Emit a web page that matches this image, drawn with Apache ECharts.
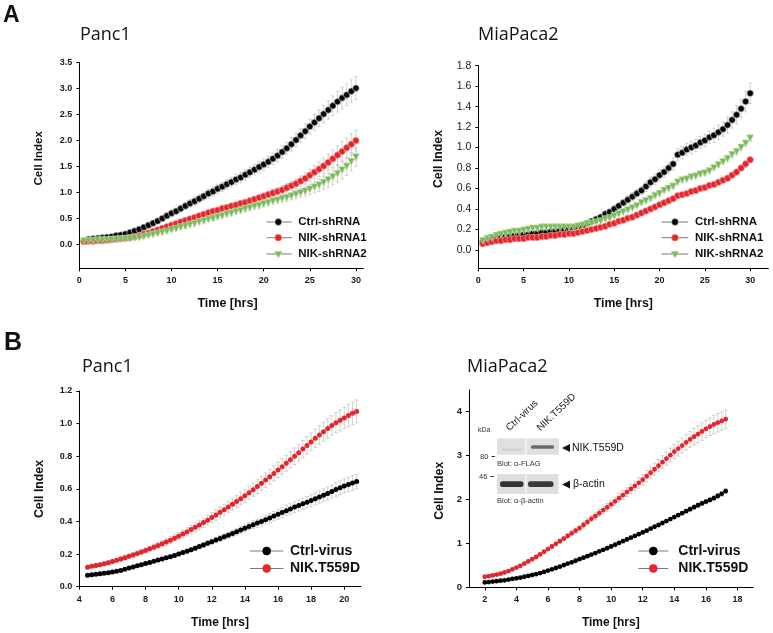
<!DOCTYPE html>
<html><head><meta charset="utf-8">
<script src="https://cdn.jsdelivr.net/npm/echarts@6/dist/echarts.min.js"></script>
<style>html,body{margin:0;padding:0;background:#fff}#c{width:773px;height:633px}</style>
</head><body><div id="c"></div>
<script>
function seq(start, step, n){const a=[];for(let i=0;i<n;i++)a.push(+(start+step*i).toFixed(2));return a;}

// ---------- Panel A (shRNA), measurement times (hrs) ----------
const timeA = seq(0.5, 0.5, 60);
const legendA = ['Ctrl-shRNA','NIK-shRNA1','NIK-shRNA2'];

// Panc1 shRNA
const panc1Ctrl = [0.07,0.10,0.11,0.12,0.13,0.14,0.15,0.17,0.18,0.20,
 0.23,0.26,0.29,0.33,0.37,0.41,0.45,0.50,0.55,0.60,
 0.64,0.69,0.74,0.79,0.83,0.88,0.93,0.98,1.02,1.07,
 1.11,1.16,1.20,1.25,1.29,1.34,1.39,1.44,1.49,1.54,
 1.59,1.65,1.71,1.78,1.85,1.93,2.01,2.10,2.18,2.27,
 2.35,2.43,2.51,2.59,2.67,2.75,2.82,2.88,2.95,3.01];
const panc1CtrlErr = [0.02,0.02,0.02,0.02,0.02,0.02,0.02,0.03,0.03,0.03,
 0.03,0.04,0.04,0.04,0.05,0.05,0.05,0.06,0.06,0.06,
 0.06,0.07,0.07,0.07,0.08,0.08,0.08,0.08,0.09,0.09,
 0.09,0.09,0.09,0.10,0.10,0.10,0.10,0.10,0.11,0.11,
 0.11,0.11,0.12,0.12,0.12,0.13,0.13,0.13,0.14,0.14,
 0.15,0.16,0.17,0.18,0.19,0.20,0.21,0.21,0.22,0.22];
const panc1Sh1 = [0.05,0.06,0.06,0.07,0.07,0.08,0.09,0.10,0.11,0.12,
 0.13,0.15,0.17,0.20,0.22,0.25,0.28,0.31,0.34,0.37,
 0.40,0.43,0.46,0.49,0.52,0.55,0.58,0.61,0.64,0.66,
 0.69,0.71,0.74,0.76,0.79,0.81,0.84,0.87,0.90,0.93,
 0.96,0.99,1.02,1.05,1.09,1.13,1.17,1.22,1.27,1.33,
 1.39,1.45,1.51,1.58,1.65,1.72,1.79,1.86,1.93,2.00];
const panc1Sh1Err = [0.02,0.02,0.02,0.02,0.02,0.02,0.02,0.02,0.02,0.02,
 0.02,0.02,0.03,0.03,0.03,0.03,0.03,0.03,0.03,0.04,
 0.04,0.04,0.04,0.04,0.04,0.04,0.05,0.05,0.05,0.05,
 0.05,0.05,0.05,0.05,0.06,0.06,0.06,0.06,0.06,0.06,
 0.07,0.07,0.07,0.08,0.08,0.09,0.09,0.10,0.11,0.12,
 0.13,0.14,0.15,0.16,0.17,0.18,0.19,0.19,0.20,0.20];
const panc1Sh2 = [0.06,0.07,0.07,0.08,0.08,0.08,0.09,0.09,0.10,0.10,
 0.11,0.12,0.13,0.15,0.17,0.19,0.21,0.23,0.25,0.28,
 0.30,0.33,0.35,0.38,0.40,0.43,0.45,0.48,0.50,0.53,
 0.55,0.58,0.60,0.63,0.65,0.68,0.70,0.73,0.75,0.78,
 0.80,0.83,0.85,0.88,0.90,0.93,0.96,0.99,1.02,1.06,
 1.10,1.14,1.19,1.24,1.30,1.36,1.43,1.50,1.59,1.68];
const panc1Sh2Err = [0.02,0.02,0.02,0.02,0.02,0.02,0.02,0.02,0.02,0.02,
 0.02,0.02,0.02,0.03,0.03,0.03,0.03,0.03,0.03,0.03,
 0.03,0.03,0.04,0.04,0.04,0.04,0.04,0.04,0.04,0.04,
 0.05,0.05,0.05,0.05,0.05,0.05,0.05,0.05,0.06,0.06,
 0.06,0.06,0.06,0.07,0.07,0.07,0.08,0.08,0.09,0.10,
 0.11,0.12,0.13,0.14,0.15,0.16,0.17,0.17,0.18,0.18];

// MiaPaca2 shRNA
const miaCtrl = [0.08,0.09,0.10,0.11,0.12,0.13,0.13,0.14,0.14,0.15,
 0.15,0.16,0.16,0.17,0.17,0.18,0.18,0.19,0.20,0.21,
 0.22,0.23,0.24,0.26,0.28,0.30,0.32,0.35,0.37,0.40,
 0.43,0.46,0.49,0.52,0.55,0.58,0.62,0.66,0.69,0.73,
 0.76,0.80,0.84,0.93,0.95,0.98,1.00,1.02,1.05,1.07,
 1.10,1.12,1.15,1.18,1.22,1.27,1.32,1.38,1.45,1.53];
const miaCtrlErr = [0.01,0.01,0.01,0.01,0.01,0.01,0.01,0.01,0.01,0.01,
 0.01,0.01,0.01,0.01,0.01,0.01,0.01,0.01,0.02,0.02,
 0.02,0.02,0.02,0.02,0.02,0.03,0.03,0.03,0.03,0.03,
 0.03,0.03,0.04,0.04,0.04,0.04,0.05,0.05,0.05,0.05,
 0.05,0.05,0.06,0.06,0.06,0.06,0.06,0.06,0.06,0.06,
 0.06,0.07,0.07,0.07,0.08,0.08,0.09,0.09,0.10,0.10];
const miaSh1 = [0.06,0.07,0.08,0.09,0.09,0.10,0.10,0.11,0.11,0.11,
 0.12,0.12,0.12,0.13,0.13,0.14,0.14,0.15,0.15,0.16,
 0.16,0.17,0.18,0.19,0.20,0.21,0.22,0.23,0.25,0.26,
 0.28,0.29,0.31,0.32,0.34,0.36,0.38,0.40,0.42,0.44,
 0.46,0.48,0.50,0.53,0.54,0.55,0.57,0.58,0.60,0.61,
 0.63,0.64,0.66,0.68,0.70,0.73,0.76,0.80,0.84,0.88];
const miaSh1Err = [0.01,0.01,0.01,0.01,0.01,0.01,0.01,0.01,0.01,0.01,
 0.01,0.01,0.01,0.01,0.01,0.01,0.01,0.01,0.01,0.01,
 0.01,0.01,0.01,0.01,0.01,0.01,0.01,0.01,0.01,0.01,
 0.01,0.01,0.01,0.01,0.01,0.02,0.02,0.02,0.02,0.02,
 0.02,0.02,0.02,0.02,0.02,0.02,0.02,0.02,0.02,0.02,
 0.02,0.02,0.02,0.02,0.03,0.03,0.03,0.03,0.03,0.03];
const miaSh2 = [0.09,0.11,0.12,0.14,0.15,0.16,0.17,0.18,0.18,0.19,
 0.20,0.21,0.21,0.22,0.22,0.22,0.22,0.22,0.22,0.22,
 0.22,0.23,0.24,0.25,0.26,0.27,0.28,0.30,0.31,0.33,
 0.35,0.37,0.39,0.41,0.43,0.46,0.48,0.50,0.53,0.55,
 0.58,0.60,0.62,0.66,0.68,0.69,0.71,0.72,0.74,0.75,
 0.77,0.80,0.83,0.86,0.89,0.93,0.96,1.00,1.04,1.09];
const miaSh2Err = [0.01,0.01,0.01,0.01,0.01,0.01,0.01,0.01,0.01,0.01,
 0.01,0.01,0.01,0.01,0.01,0.01,0.01,0.01,0.01,0.01,
 0.01,0.01,0.01,0.01,0.01,0.01,0.01,0.01,0.01,0.01,
 0.01,0.01,0.01,0.01,0.01,0.02,0.02,0.02,0.02,0.02,
 0.02,0.02,0.02,0.02,0.02,0.02,0.02,0.02,0.02,0.02,
 0.02,0.02,0.02,0.02,0.03,0.03,0.03,0.03,0.03,0.03];

// ---------- Panel B (virus) ----------
const legendB = ['Ctrl-virus','NIK.T559D'];
const timeB1 = seq(4.5, 0.25, 66);
const panc1VirCtrl = [0.070,0.073,0.076,0.079,0.082,0.086,0.090,0.095,0.100,0.107,0.114,0.121,0.128,0.135,0.142,0.149,
 0.156,0.163,0.170,0.177,0.184,0.192,0.200,0.209,0.218,0.227,0.236,0.246,0.256,0.266,0.276,0.286,
 0.296,0.306,0.316,0.326,0.337,0.348,0.358,0.369,0.380,0.390,0.400,0.411,0.422,0.433,0.444,0.455,
 0.466,0.477,0.488,0.498,0.508,0.518,0.528,0.539,0.550,0.561,0.572,0.584,0.596,0.607,0.618,0.627,
 0.636,0.645];
const panc1VirCtrlErr = [0.008,0.008,0.008,0.008,0.008,0.008,0.008,0.008,0.008,0.008,0.008,0.008,0.008,0.008,0.008,0.008,
 0.010,0.010,0.010,0.011,0.011,0.012,0.012,0.013,0.013,0.014,0.014,0.015,0.015,0.016,0.016,0.017,
 0.018,0.018,0.019,0.020,0.021,0.022,0.022,0.023,0.024,0.025,0.026,0.027,0.028,0.029,0.030,0.030,
 0.031,0.032,0.033,0.034,0.034,0.035,0.036,0.037,0.038,0.039,0.040,0.040,0.041,0.042,0.043,0.044,
 0.045,0.045];
const panc1VirNik = [0.120,0.125,0.130,0.135,0.140,0.147,0.155,0.162,0.170,0.178,0.186,0.195,0.204,0.213,0.222,0.232,
 0.242,0.252,0.263,0.274,0.285,0.297,0.310,0.323,0.336,0.350,0.364,0.378,0.393,0.408,0.424,0.440,
 0.456,0.472,0.489,0.506,0.523,0.540,0.558,0.576,0.595,0.614,0.634,0.654,0.674,0.694,0.715,0.736,
 0.757,0.778,0.800,0.822,0.844,0.866,0.888,0.910,0.930,0.950,0.970,0.988,1.005,1.020,1.035,1.050,
 1.063,1.075];
const panc1VirNikErr = [0.010,0.010,0.010,0.010,0.012,0.012,0.012,0.013,0.013,0.014,0.014,0.015,0.015,0.016,0.016,0.017,
 0.018,0.018,0.019,0.020,0.021,0.022,0.023,0.024,0.025,0.026,0.027,0.028,0.029,0.030,0.031,0.032,
 0.033,0.034,0.035,0.036,0.037,0.038,0.039,0.040,0.041,0.042,0.043,0.044,0.045,0.046,0.047,0.048,
 0.049,0.050,0.051,0.052,0.053,0.054,0.055,0.056,0.057,0.058,0.059,0.060,0.062,0.064,0.066,0.068,
 0.070,0.070];

const timeB2 = seq(2.0, 0.25, 62);
const miaVirCtrl = [0.11,0.12,0.13,0.14,0.15,0.16,0.175,0.19,0.205,0.22,0.24,0.26,0.28,0.30,0.325,0.35,
 0.38,0.41,0.44,0.47,0.505,0.54,0.57,0.605,0.64,0.675,0.71,0.745,0.78,0.82,0.855,0.89,
 0.93,0.97,1.01,1.05,1.09,1.13,1.17,1.21,1.25,1.29,1.335,1.38,1.42,1.465,1.51,1.555,
 1.60,1.645,1.69,1.735,1.78,1.825,1.87,1.91,1.95,1.99,2.03,2.08,2.13,2.19];
const miaVirCtrlErr = [0.01,0.01,0.01,0.01,0.01,0.01,0.01,0.01,0.01,0.01,0.01,0.01,0.01,0.01,0.01,0.01,
 0.02,0.02,0.02,0.02,0.02,0.02,0.02,0.02,0.02,0.02,0.02,0.02,0.02,0.02,0.02,0.02,
 0.03,0.03,0.03,0.03,0.03,0.03,0.03,0.03,0.03,0.03,0.03,0.03,0.03,0.03,0.03,0.03,
 0.04,0.04,0.04,0.04,0.05,0.05,0.05,0.05,0.05,0.05,0.06,0.06,0.06,0.06];
const miaVirNik = [0.24,0.255,0.27,0.29,0.31,0.34,0.37,0.41,0.45,0.49,0.54,0.59,0.64,0.69,0.75,0.81,
 0.87,0.93,0.99,1.05,1.11,1.17,1.23,1.29,1.35,1.42,1.49,1.56,1.62,1.69,1.76,1.82,
 1.89,1.96,2.03,2.10,2.17,2.24,2.31,2.38,2.45,2.53,2.61,2.69,2.77,2.85,2.93,3.01,
 3.09,3.16,3.23,3.30,3.37,3.43,3.49,3.55,3.61,3.66,3.71,3.75,3.79,3.83];
const miaVirNikErr = [0.02,0.02,0.02,0.02,0.02,0.02,0.02,0.02,0.03,0.03,0.03,0.03,0.03,0.03,0.03,0.03,
 0.04,0.04,0.04,0.05,0.05,0.05,0.06,0.06,0.06,0.07,0.07,0.07,0.08,0.08,0.08,0.09,
 0.09,0.09,0.10,0.10,0.10,0.11,0.11,0.12,0.12,0.13,0.13,0.14,0.14,0.15,0.15,0.16,
 0.16,0.17,0.17,0.18,0.18,0.19,0.19,0.20,0.20,0.20,0.21,0.21,0.21,0.21];

// tick labels
const ticksA1x=[0,5,10,15,20,25,30], ticksA1y=[0,0.5,1,1.5,2,2.5,3,3.5];
const ticksA2x=[0,5,10,15,20,25,30], ticksA2y=[0,0.2,0.4,0.6,0.8,1.0,1.2,1.4,1.6,1.8];
const ticksB1x=[4,6,8,10,12,14,16,18,20], ticksB1y=[0,0.2,0.4,0.6,0.8,1.0,1.2];
const ticksB2x=[2,4,6,8,10,12,14,16,18], ticksB2y=[0,1,2,3,4];

// ---------- styles ----------
const FF='"Liberation Sans", Arial, sans-serif';
const TF='"Open Sans", "Noto Sans", sans-serif';
const COL={
  black:{fill:'#050505',border:'rgba(205,205,205,0.95)'},
  red:{fill:'#e3262c',border:'#f4a3a3'},
  green:{fill:'#7bb95a',border:'#c4e3b1'}
};
const grids=[
  {left:79.3,top:62.7,width:284,height:205.6},
  {left:478.3,top:65.7,width:290,height:202.6},
  {left:79.3,top:391,width:281.5,height:195.7},
  {left:469,top:389.8,width:284.3,height:197.5}
];
const axisCfg=[
  {x:[0,30.8],y:[-0.46,3.5],tx:ticksA1x,ty:ticksA1y,yfmt:v=>v.toFixed(1),yBold:'bold',ySize:9},
  {x:[0,32],y:[-0.18,1.8],tx:ticksA2x,ty:ticksA2y,yfmt:v=>v.toFixed(1),yBold:'normal',ySize:10.5},
  {x:[4,21],y:[0,1.2],tx:ticksB1x,ty:ticksB1y,yfmt:v=>v.toFixed(1),yBold:'bold',ySize:9},
  {x:[1,19],y:[0,4.5],tx:ticksB2x,ty:ticksB2y,yfmt:v=>String(v),yBold:'bold',ySize:9.5}
];
const xAxes=axisCfg.map((c,i)=>({type:'value',gridIndex:i,min:c.x[0],max:c.x[1],
  axisLine:{show:true,onZero:false,lineStyle:{color:'#000',width:1}},
  axisTick:{show:true,inside:false,length:3,customValues:c.tx,lineStyle:{color:'#000',width:1}},
  axisLabel:{customValues:c.tx,margin:8,fontSize:9,fontWeight:'bold',fontFamily:FF,color:'#1a1a1a',formatter:v=>String(v)},
  splitLine:{show:false}}));
const yAxes=axisCfg.map((c,i)=>({type:'value',gridIndex:i,min:c.y[0],max:c.y[1],
  axisLine:{show:true,onZero:false,lineStyle:{color:'#000',width:1}},
  axisTick:{show:true,inside:false,length:3,customValues:c.ty,lineStyle:{color:'#000',width:1}},
  axisLabel:{customValues:c.ty,margin:7,fontSize:c.ySize,fontWeight:c.yBold,fontFamily:FF,color:'#1a1a1a',formatter:c.yfmt},
  splitLine:{show:false}}));

function errSeries(g,times,vals,errs,capW){
  return {type:'custom',xAxisIndex:g,yAxisIndex:g,z:1,silent:true,clip:false,
    data:times.map((t,i)=>[t,vals[i],errs[i]]),
    encode:{x:0,y:1},
    renderItem:(p,api)=>{
      const x=api.value(0),y=api.value(1),e=api.value(2);
      const a=api.coord([x,y+e]),b=api.coord([x,y-e]),h=capW/2;
      const st={stroke:'#c6c6c6',lineWidth:0.8};
      return {type:'group',children:[
        {type:'line',shape:{x1:a[0],y1:a[1],x2:b[0],y2:b[1]},style:st},
        {type:'line',shape:{x1:a[0]-h,y1:a[1],x2:a[0]+h,y2:a[1]},style:st},
        {type:'line',shape:{x1:b[0]-h,y1:b[1],x2:b[0]+h,y2:b[1]},style:st}
      ]};
    }};
}
function dotSeries(g,name,times,vals,col,sym,size,bw){
  return {type:'scatter',name:name,xAxisIndex:g,yAxisIndex:g,z:2,silent:true,
    data:times.map((t,i)=>[t,vals[i]]),symbol:sym,symbolSize:size,symbolRotate:sym==='triangle'?180:0,
    itemStyle:{color:col.fill,borderColor:col.border,borderWidth:bw,opacity:1}};
}
const series=[
  errSeries(0,timeA,panc1Ctrl,panc1CtrlErr,3.5), errSeries(0,timeA,panc1Sh1,panc1Sh1Err,3.5), errSeries(0,timeA,panc1Sh2,panc1Sh2Err,3.5),
  dotSeries(0,legendA[0],timeA,panc1Ctrl,COL.black,'circle',6.5,0.7),
  dotSeries(0,legendA[1],timeA,panc1Sh1,COL.red,'circle',6.5,0.7),
  dotSeries(0,legendA[2],timeA,panc1Sh2,COL.green,'triangle',7,0.6),
  errSeries(1,timeA,miaCtrl,miaCtrlErr,3.5), errSeries(1,timeA,miaSh1,miaSh1Err,3.5), errSeries(1,timeA,miaSh2,miaSh2Err,3.5),
  dotSeries(1,legendA[0],timeA,miaCtrl,COL.black,'circle',6.5,0.7),
  dotSeries(1,legendA[1],timeA,miaSh1,COL.red,'circle',6.5,0.7),
  dotSeries(1,legendA[2],timeA,miaSh2,COL.green,'triangle',7,0.6),
  errSeries(2,timeB1,panc1VirCtrl,panc1VirCtrlErr,4), errSeries(2,timeB1,panc1VirNik,panc1VirNikErr,4),
  dotSeries(2,legendB[0],timeB1,panc1VirCtrl,{fill:'#000',border:'#000'},'circle',5,0),
  dotSeries(2,legendB[1],timeB1,panc1VirNik,{fill:'#e3262c',border:'#e3262c'},'circle',5,0),
  errSeries(3,timeB2,miaVirCtrl,miaVirCtrlErr,4), errSeries(3,timeB2,miaVirNik,miaVirNikErr,4),
  dotSeries(3,legendB[0],timeB2,miaVirCtrl,{fill:'#000',border:'#000'},'circle',4.8,0),
  dotSeries(3,legendB[1],timeB2,miaVirNik,{fill:'#e3262c',border:'#e3262c'},'circle',4.8,0)
];

// ---------- graphic (titles, axis names, legends, blot inset) ----------
function txt(x,y,text,size,weight,family,align,valign,rot,fill){
  const el={type:'text',x:x,y:y,silent:true,z:10,
    style:{text:text,x:0,y:0,fill:fill||'#111',fontSize:size,fontWeight:weight||'normal',fontFamily:family||FF,
      textAlign:align||'left',align:align||'left',textVerticalAlign:valign||'middle',verticalAlign:valign||'middle'}};
  if(rot) el.rotation=rot;
  return el;
}
const G=[];
G.push(txt(3,15.5,'A',23,'bold',FF,'left','middle'));
G.push(txt(4,343,'B',25,'bold',FF,'left','middle'));
G.push(txt(80,35,'Panc1',18,'normal',TF));
G.push(txt(478,35,'MiaPaca2',18,'normal',TF));
G.push(txt(82,367,'Panc1',18,'normal',TF));
G.push(txt(467,367,'MiaPaca2',18,'normal',TF));
G.push(txt(38.7,158.3,'Cell Index',11.5,'bold',FF,'center','middle',Math.PI/2));
G.push(txt(438.3,159,'Cell Index',12.3,'bold',FF,'center','middle',Math.PI/2));
G.push(txt(40,489,'Cell Index',12.3,'bold',FF,'center','middle',Math.PI/2));
G.push(txt(439.3,490.8,'Cell Index',12.3,'bold',FF,'center','middle',Math.PI/2));
G.push(txt(227.5,303.5,'Time [hrs]',12.5,'bold',FF,'center','middle'));
G.push(txt(623.3,303.5,'Time [hrs]',12.3,'bold',FF,'center','middle'));
G.push(txt(220,623,'Time [hrs]',12,'bold',FF,'center','middle'));
G.push(txt(610.8,623,'Time [hrs]',12,'bold',FF,'center','middle'));

function legendItem(x0,x1,xm,xt,y,shape,col,r,label,fs){
  G.push({type:'line',silent:true,z:10,shape:{x1:x0,y1:y,x2:x1,y2:y},style:{stroke:'#7a7a7a',lineWidth:1}});
  if(shape==='tri'){
    G.push({type:'polygon',silent:true,z:11,shape:{points:[[xm-r*1.15,y-r*0.75],[xm+r*1.15,y-r*0.75],[xm,y+r*1.2]]},style:{fill:col.fill,stroke:col.border,lineWidth:0.6}});
  } else {
    G.push({type:'circle',silent:true,z:11,shape:{cx:xm,cy:y,r:r},style:{fill:col.fill,stroke:col.border,lineWidth:0.6}});
  }
  G.push(txt(xt,y,label,fs,'bold',FF,'left','middle',0,'#111'));
}
const legColsA=[COL.black,COL.red,COL.green], legShapesA=['c','c','tri'];
[222,237.7,254].forEach((y,i)=>{
  legendItem(266.7,291.7,278.3,298.3,y,legShapesA[i],legColsA[i],3.4,legendA[i],11.5);
  legendItem(661.7,688.3,675,695,y,legShapesA[i],legColsA[i],3.4,legendA[i],11.5);
});
const legColsB=[{fill:'#000',border:'#000'},{fill:'#e3262c',border:'#e3262c'}];
[551,568.5].forEach((y,i)=>{
  legendItem(250,283.3,266.7,290,y,'c',legColsB[i],4,legendB[i],14);
  legendItem(638.3,668.3,653.3,678.3,y,'c',legColsB[i],4,legendB[i],14);
});

// Western blot inset (decorative image stand-in)
G.push({type:'rect',silent:true,z:5,shape:{x:497,y:438.3,width:62,height:16.5},style:{fill:'#e0e0e0'}});
G.push({type:'rect',silent:true,z:6,shape:{x:525,y:438.3,width:1.6,height:16.5},style:{fill:'#f6f6f6'}});
G.push({type:'rect',silent:true,z:6,shape:{x:531,y:445.2,width:23,height:3.6,r:1.5},style:{fill:'#6a6a6a'}});
G.push({type:'rect',silent:true,z:6,shape:{x:502,y:448.5,width:19,height:2.5,r:1},style:{fill:'#cfcfcf'}});
G.push({type:'rect',silent:true,z:5,shape:{x:497,y:474,width:61.5,height:20},style:{fill:'#dedede'}});
G.push({type:'rect',silent:true,z:6,shape:{x:525,y:474,width:1.6,height:20},style:{fill:'#f4f4f4'}});
G.push({type:'rect',silent:true,z:6,shape:{x:500,y:481.2,width:23.5,height:5.8,r:2.5},style:{fill:'#333'}});
G.push({type:'rect',silent:true,z:6,shape:{x:528,y:481.2,width:25.5,height:5.8,r:2.5},style:{fill:'#383838'}});
G.push(txt(478,433.5,'kDa',7,'normal',FF,'left','bottom',0,'#333'));
G.push(txt(480,456.5,'80',7.5,'normal',FF,'left','middle',0,'#333'));
G.push({type:'line',silent:true,z:10,shape:{x1:491.5,y1:456.5,x2:495,y2:456.5},style:{stroke:'#333',lineWidth:1}});
G.push(txt(479,476.5,'46',7.5,'normal',FF,'left','middle',0,'#333'));
G.push({type:'line',silent:true,z:10,shape:{x1:490.5,y1:476.5,x2:494,y2:476.5},style:{stroke:'#333',lineWidth:1}});
G.push(txt(497,463.5,'Blot: α-FLAG',7.5,'normal',FF,'left','middle',0,'#333'));
G.push(txt(497,501,'Blot: α-β-actin',7.5,'normal',FF,'left','middle',0,'#333'));
G.push(txt(511,433,'Ctrl-virus',10,'normal',FF,'left','bottom',0.76,'#222'));
G.push(txt(542,433,'NIK.T559D',10,'normal',FF,'left','bottom',0.76,'#222'));
G.push({type:'polygon',silent:true,z:10,shape:{points:[[562,448],[570,444],[570,452]]},style:{fill:'#111'}});
G.push(txt(572,448,'NIK.T559D',10.5,'normal',FF,'left','middle',0,'#111'));
G.push({type:'polygon',silent:true,z:10,shape:{points:[[562,484.5],[570,480.5],[570,488.5]]},style:{fill:'#111'}});
G.push(txt(573,484.5,'β-actin',10.5,'normal',FF,'left','middle',0,'#111'));

const chart=echarts.init(document.getElementById('c'),null,{renderer:'canvas'});
chart.setOption({
  animation:false,
  backgroundColor:'#fff',
  grid:grids.map(g=>Object.assign({containLabel:false,outerBoundsMode:'none'},g)),
  xAxis:xAxes, yAxis:yAxes, series:series, graphic:{elements:G}
});
</script></body></html>
